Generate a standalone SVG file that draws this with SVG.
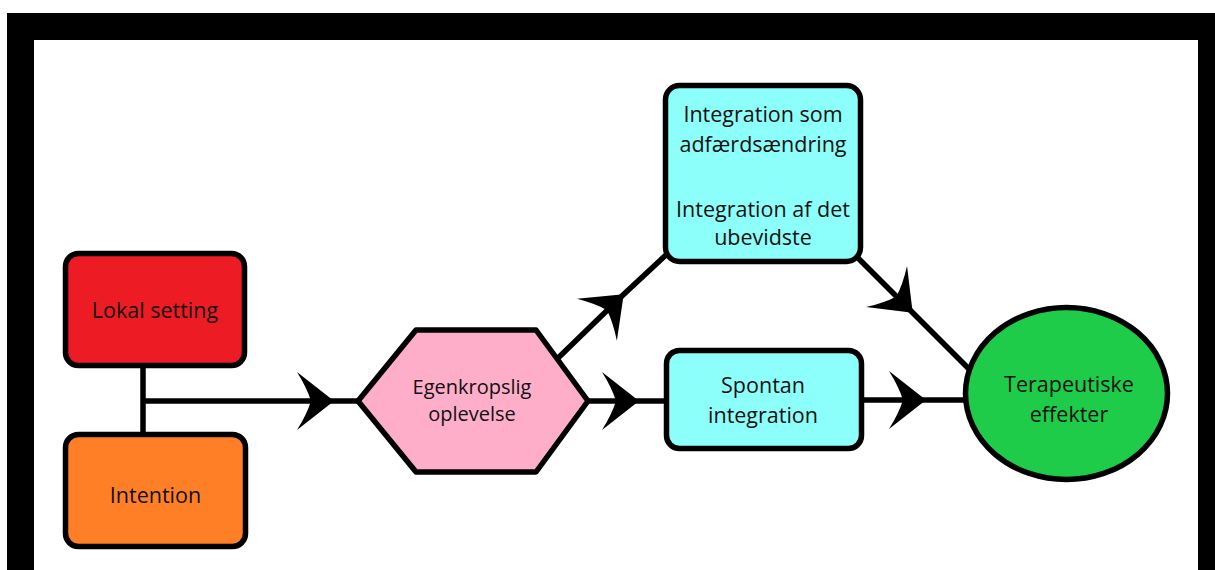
<svg xmlns="http://www.w3.org/2000/svg" width="1215" height="570" viewBox="0 0 1215 570">
<defs>
<style>
.node{stroke:#000;stroke-width:5.5;stroke-linejoin:round}
.t{font-family:"Open Sans","Noto Sans","Liberation Sans",sans-serif;font-size:21.5px;fill:#111;text-anchor:middle}
.ts{font-size:20px}
.c{fill:none;stroke:#000;stroke-width:5.5}
</style>
<marker id="ah" markerUnits="userSpaceOnUse" markerWidth="40" markerHeight="64" viewBox="-38 -32 40 64" refX="0" refY="0" orient="auto" overflow="visible">
<path d="M1,0 L-36,-29 Q-26,-13 -22,0 Q-26,13 -36,29 Z" fill="#000"/>
</marker>
</defs>
<rect x="0" y="0" width="1215" height="570" fill="#fff"/>
<rect x="7" y="13" width="1208" height="557" fill="#000"/>
<rect x="34" y="40" width="1164" height="530" fill="#fff"/>
<g id="connectors">
<path class="c" d="M143,368 L143,434"/>
<path class="c" d="M143,401 L333,401 L358,401" marker-mid="url(#ah)"/>
<path class="c" d="M588,401 L638,401 L666,401" marker-mid="url(#ah)"/>
<path class="c" d="M862,400 L925,400 L966,400" marker-mid="url(#ah)"/>
<path class="c" d="M557,359 L623,295 L667,254" marker-mid="url(#ah)"/>
<path class="c" d="M857,257 L912,312 L969,369" marker-mid="url(#ah)"/>
</g>
<g id="lokal">
<rect class="node" x="65.5" y="253.5" width="179" height="112" rx="13" fill="#ED1C24"/>
<text class="t" x="155" y="318">Lokal setting</text>
</g>
<g id="intention">
<rect class="node" x="65.5" y="434.5" width="180" height="112" rx="13" fill="#FF7F27"/>
<text class="t" x="155.5" y="503">Intention</text>
</g>
<g id="egenkropslig">
<polygon class="node" points="358,401 416,330 536,330 588,401 536,472 416,472" fill="#FFAEC9"/>
<text class="t ts" x="472" y="394">Egenkropslig</text>
<text class="t ts" x="472" y="421">oplevelse</text>
</g>
<g id="integration">
<rect class="node" x="665.5" y="85.5" width="195" height="176" rx="14" fill="#8CFFFB"/>
<text class="t" x="763" y="122">Integration som</text>
<text class="t" x="763" y="152">adfærdsændring</text>
<text class="t" x="763" y="217">Integration af det</text>
<text class="t" x="763" y="245">ubevidste</text>
</g>
<g id="spontan">
<rect class="node" x="666.5" y="350.5" width="195" height="98" rx="13" fill="#8CFFFB"/>
<text class="t" x="763" y="393">Spontan</text>
<text class="t" x="763" y="423">integration</text>
</g>
<g id="terapeutiske">
<ellipse class="node" cx="1066.5" cy="393.5" rx="101" ry="86" fill="#1ECC4A"/>
<text class="t" x="1069" y="392">Terapeutiske</text>
<text class="t" x="1069" y="422">effekter</text>
</g>
</svg>
